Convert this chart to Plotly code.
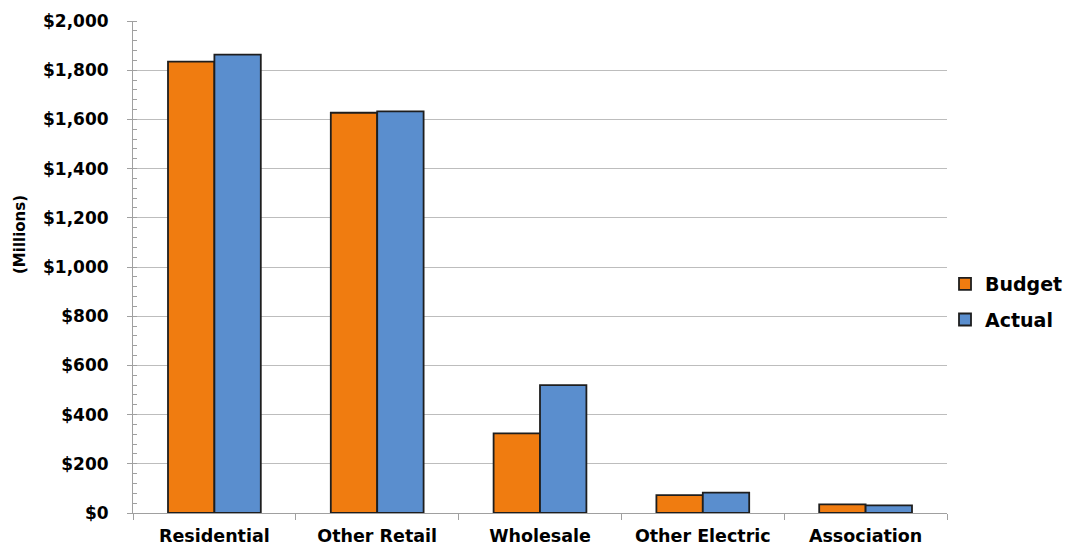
import plotly.graph_objects as go

categories = ["Residential", "Other Retail", "Wholesale", "Other Electric", "Association"]
budget = [1835, 1627, 324, 73, 35]
actual = [1863, 1633, 520, 83, 31]
y_tickvals = [0, 200, 400, 600, 800, 1000, 1200, 1400, 1600, 1800, 2000]
y_ticktext = ["$0", "$200", "$400", "$600", "$800", "$1,000", "$1,200", "$1,400", "$1,600", "$1,800", "$2,000"]

FONT = "DejaVu Sans, Liberation Sans, Arial, sans-serif"

fig = go.Figure()
fig.add_trace(go.Bar(
    name="Budget", x=categories, y=budget, legendgroup="b",
    marker=dict(color="#F07C10", line=dict(color="#1e1e1e", width=1.8)),
))
fig.add_trace(go.Bar(
    name="Actual", x=categories, y=actual, legendgroup="a",
    marker=dict(color="#5A8ECE", line=dict(color="#1e1e1e", width=1.8)),
))

fig.update_layout(
    width=1066, height=549,
    margin=dict(l=133, r=119, t=21, b=36, autoexpand=False),
    paper_bgcolor="white", plot_bgcolor="white",
    barmode="group", bargap=0.43, bargroupgap=0,
    font=dict(family=FONT, color="black"),
    legend=dict(
        xref="container", yref="container",
        x=0.8865, y=0.45, xanchor="left", yanchor="middle",
        font=dict(family=FONT, size=19, color="black", weight="bold"),
        tracegroupgap=8, bgcolor="rgba(0,0,0,0)",
    ),
    showlegend=True,
    annotations=[dict(
        text="(Millions)", textangle=-90, showarrow=False,
        xref="paper", yref="paper", x=-0.1388, y=0.565,
        xanchor="center", yanchor="middle",
        font=dict(family=FONT, size=15, color="black", weight="bold"),
    )],
)
fig.update_yaxes(
    range=[0, 2000], automargin=False,
    tickvals=y_tickvals, ticktext=y_ticktext,
    tickfont=dict(family=FONT, size=17, color="black", weight="bold"),
    showgrid=True, gridcolor="#bdbdbd", gridwidth=1,
    showline=True, linecolor="#a0a0a0", linewidth=1,
    ticks="outside", ticklen=5, tickcolor="#a0a0a0",
    ticklabelstandoff=15,
    minor=dict(dtick=40, ticks="inside", ticklen=4, tickcolor="#a0a0a0", showgrid=False),
    zeroline=False,
)
fig.update_xaxes(
    automargin=False,
    tickfont=dict(family=FONT, size=17.5, color="black", weight="bold"),
    showline=True, linecolor="#a0a0a0", linewidth=1,
    ticks="outside", ticklen=6, tickcolor="#a0a0a0", tickson="boundaries",
    ticklabelstandoff=7,
    showgrid=False,
)

fig.write_html("out.html")
